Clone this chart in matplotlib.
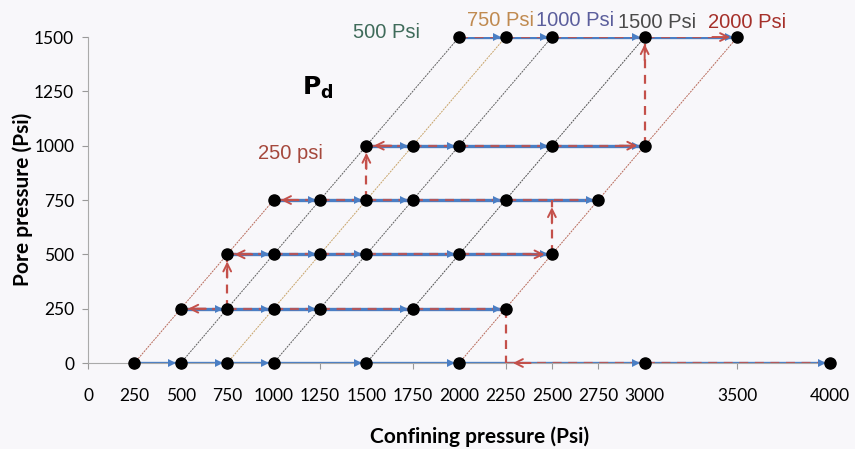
import matplotlib
matplotlib.use("Agg")
import matplotlib.pyplot as plt

# --- data ---
pore_levels = [0, 250, 500, 750, 1000, 1500]
conf_p0 = [250, 500, 750, 1000, 1500, 2000, 3000, 4000]
conf_p250 = [500, 750, 1000, 1250, 1750, 2250]
conf_p500 = [750, 1000, 1250, 1500, 2000, 2500]
conf_p750 = [1000, 1250, 1500, 1750, 2250, 2750]
conf_p1000 = [1500, 1750, 2000, 2500, 3000]
conf_p1500 = [2000, 2250, 2500, 3000, 3500]
rows = [conf_p0, conf_p250, conf_p500, conf_p750, conf_p1000, conf_p1500]

# start of the red (unloading) dashed path on each row
red_start = [2250, 500, 750, 1000, 1500, 2000]

# constant differential pressure lines
diff_pressures = [250, 500, 750, 1000, 1500, 2000]
diff_max_pore = [750, 1500, 1500, 1500, 1500, 1500]
diff_labels = ["250 psi", "500 Psi", "750 Psi", "1000 Psi", "1500 Psi", "2000 Psi"]
diff_colors = ["#a5483c", "#3f6b5a", "#c08a50", "#5b5e9c", "#4a4a4a", "#a5302a"]
line_colors = ["#b86a5a", "#606060", "#c8a46a", "#606060", "#505050", "#b86a5a"]
label_pos = [(1089, 966), (1606, 1519), (2221, 1578), (2625, 1578), (3067, 1569), (3553, 1569)]

# vertical pore pressure steps (conf, from, to)
steps = [(750, 250, 500), (1500, 750, 1000), (2250, 250, 0), (2500, 500, 750), (3000, 1000, 1500)]

xticks = [0, 250, 500, 750, 1000, 1250, 1500, 1750, 2000, 2250, 2500, 2750, 3000, 3500, 4000]
yticks = [0, 250, 500, 750, 1000, 1250, 1500]

blue = "#4a7ec4"
red = "#c4504a"

fig = plt.figure(figsize=(8.55, 4.49), dpi=100, facecolor="#f8f7fa")
ax = fig.add_axes([0.103, 0.1915, 0.868, 0.726])
ax.set_facecolor("#f8f7fa")

# diagonal Pd lines
for pd, pmax, c in zip(diff_pressures, diff_max_pore, line_colors):
    ax.plot([pd, pd + pmax], [0, pmax], color=c, lw=0.7, ls=(0, (2, 1)), zorder=1)

# horizontal loading paths
for p, xs, rs in zip(pore_levels, rows, red_start):
    ax.plot([xs[0], xs[-1]], [p, p], color=blue, lw=2.4, zorder=2, solid_capstyle="butt")
    ax.plot([rs, xs[-1]], [p, p], color=red, lw=1.6, ls=(0, (4, 3)), alpha=0.85, zorder=3)
    # small blue arrowheads just before the dots
    for x in xs[1:]:
        ax.plot(x - 45, p, marker=">", color=blue, ms=6, mew=0, zorder=3, clip_on=False)

# red arrowheads along the rows
for x0, x1, p in [(650, 500, 250), (900, 750, 500), (1150, 1000, 750), (1650, 1500, 1000),
                  (2400, 2250, 0), (2350, 2500, 500), (2850, 3000, 1000), (3350, 3500, 1500)]:
    ax.annotate("", xy=(x1 + (25 if x1 < x0 else -25), p), xytext=(x0, p),
                arrowprops=dict(arrowstyle="->", color=red, lw=1.4, mutation_scale=14),
                zorder=4, annotation_clip=False)

# vertical red dashed steps
for x, p0, p1 in steps:
    ax.plot([x, x], [p0, p1], color=red, lw=1.6, ls=(0, (4, 3)), zorder=3)
    if p1 > p0:
        ax.annotate("", xy=(x, p1 - 20), xytext=(x, p1 - 120),
                    arrowprops=dict(arrowstyle="->", color=red, lw=1.4, mutation_scale=14),
                    zorder=4)

# dots
for p, xs in zip(pore_levels, rows):
    ax.plot(xs, [p] * len(xs), "o", color="black", ms=8, zorder=5, clip_on=False)

# labels of Pd lines
for (x, y), t, c in zip(label_pos, diff_labels, diff_colors):
    ax.text(x, y, t, color=c, fontsize=14.5, family="Liberation Sans", ha="center", va="center")
ax.text(1240, 1265, r"$\mathbf{P_d}$", fontsize=18, ha="center", va="center")

ax.set_xlim(0, 4000)
ax.set_ylim(0, 1500)
ax.set_xticks(xticks)
ax.set_yticks(yticks)
ax.tick_params(axis="both", colors="#999999", labelcolor="black", labelsize=12.5, length=4, width=0.8)
ax.tick_params(axis="x", pad=14)
ax.tick_params(axis="y", pad=6)
for lbl in ax.get_xticklabels() + ax.get_yticklabels():
    lbl.set_family("Lato")
for s in ["top", "right"]:
    ax.spines[s].set_visible(False)
for s in ["left", "bottom"]:
    ax.spines[s].set_color("#aaaaaa")
    ax.spines[s].set_linewidth(0.8)

fig.text(0.027, 0.555, "Pore pressure (Psi)", rotation=90, ha="center", va="center",
         fontsize=15, fontweight="bold", family="Lato")
fig.text(0.561, 0.027, "Confining pressure (Psi)", ha="center", va="center",
         fontsize=15, fontweight="bold", family="Lato")

fig.savefig("out.png", dpi=100, facecolor=fig.get_facecolor())
